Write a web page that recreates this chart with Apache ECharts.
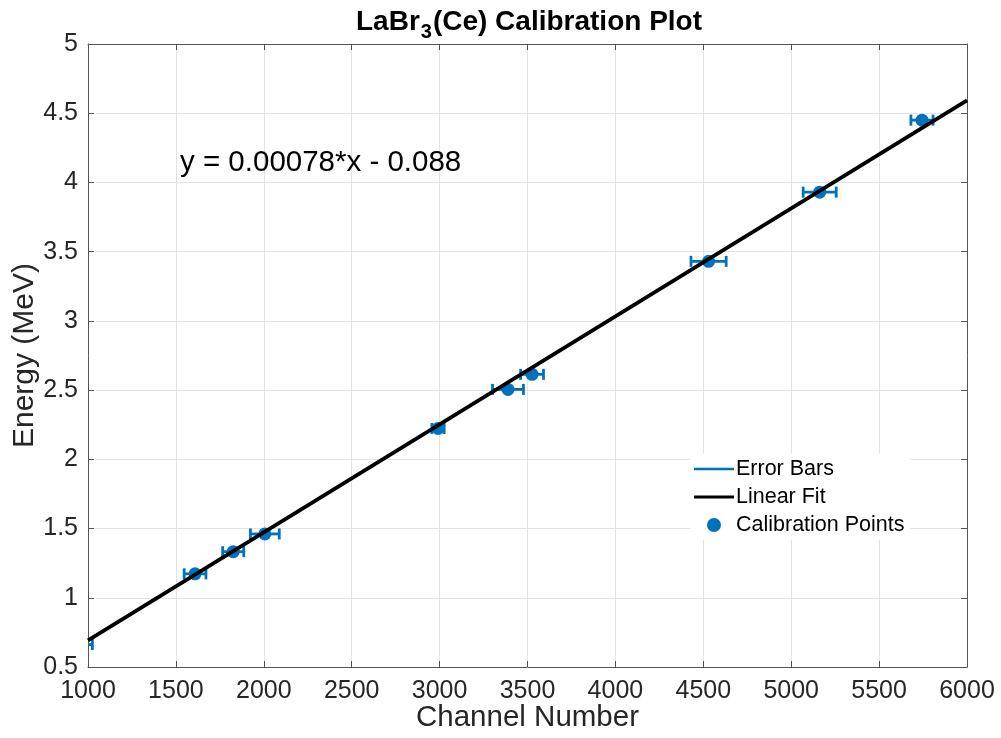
<!DOCTYPE html>
<html>
<head>
<meta charset="utf-8">
<script src="https://cdn.jsdelivr.net/npm/echarts@6/dist/echarts.min.js"></script>
<style>
  html, body { margin: 0; padding: 0; background: #fff; }
  #chart { width: 1001px; height: 738px; }
</style>
</head>
<body>
<div id="chart"></div>
<script>
// Calibration peaks: channel number, energy (MeV) and channel uncertainty
const channels   = [965, 1609, 1826, 2006, 2991, 3389, 3526, 4530, 5162, 5744];
const energies   = [0.662, 1.173, 1.333, 1.461, 2.223, 2.505, 2.614, 3.43, 3.93, 4.45];
const channelErr = [60, 62, 60, 82, 35, 88, 65, 100, 94, 63];

// Linear fit parameters (shown in the annotation)
const fitSlope = 0.00078;
const fitIntercept = -0.088;
const fitRange = [1000, 6000];

const xTicks = { min: 1000, max: 6000, interval: 500 };
const yTicks = { min: 0.5, max: 5, interval: 0.5 };

const BLUE = '#0072BD';
const FONT = '"Liberation Sans", Arial, Helvetica, sans-serif';
const AXIS_COLOR = '#262626';

const points = channels.map((c, i) => [c, energies[i]]);
const errData = channels.map((c, i) => [c, energies[i], channelErr[i]]);
const fitData = fitRange.map(x => [x, fitSlope * x + fitIntercept]);

const chart = echarts.init(document.getElementById('chart'), null, { renderer: 'canvas' });

const baseX = {
  type: 'value', min: xTicks.min, max: xTicks.max, interval: xTicks.interval
};
const baseY = {
  type: 'value', min: yTicks.min, max: yTicks.max, interval: yTicks.interval
};
const boxLine = { show: true, onZero: false, lineStyle: { color: '#555', width: 1 } };
const boxTick = { show: true, inside: true, length: 6, lineStyle: { color: '#555' } };

chart.setOption({
  animation: false,
  backgroundColor: '#fff',
  textStyle: { fontFamily: FONT },
  title: {
    text: '{b|LaBr}{s|3}{b|(Ce) Calibration Plot}',
    left: 524, top: 3, textAlign: 'center',
    textStyle: {
      rich: {
        b: { fontFamily: FONT, fontWeight: 'bold', fontSize: 28, color: '#000', verticalAlign: 'top', lineHeight: 32 },
        s: { fontFamily: FONT, fontWeight: 'bold', fontSize: 20, color: '#000', padding: [16, 1, 0, 1], lineHeight: 32 }
      }
    }
  },
  grid: { left: 88, right: 34, top: 44, bottom: 71, containLabel: false, outerBoundsMode: 'none' },
  legend: {
    left: 690, top: 454,
    orient: 'vertical',
    itemWidth: 40, itemHeight: 14, itemGap: 6,
    backgroundColor: '#fff',
    padding: [4, 6, 4, 4],
    textStyle: { fontFamily: FONT, fontSize: 21.5, color: '#000', padding: [0, 0, 0, -3] },
    data: [
      { name: 'Error Bars', icon: 'path://M0,0 M0,14 M0,5.8 L40,5.8 L40,8.2 L0,8.2 Z', itemStyle: { color: BLUE } },
      { name: 'Linear Fit', icon: 'path://M0,0 M0,14 M0,5.4 L40,5.4 L40,8.6 L0,8.6 Z', itemStyle: { color: '#000' } },
      { name: 'Calibration Points', icon: 'circle', itemStyle: { color: BLUE } }
    ]
  },
  xAxis: [
    Object.assign({}, baseX, {
      position: 'bottom',
      name: 'Channel Number', nameLocation: 'middle', nameGap: 36, nameMoveOverlap: false,
      nameTextStyle: { fontFamily: FONT, fontSize: 29.5, color: AXIS_COLOR },
      axisLine: boxLine,
      axisTick: boxTick,
      axisLabel: { fontFamily: FONT, fontSize: 25, color: AXIS_COLOR, margin: 12, hideOverlap: false,
        formatter: v => String(v) },
      splitLine: { show: true, lineStyle: { color: '#e3e3e3', width: 1 } }
    }),
    Object.assign({}, baseX, {
      position: 'top',
      axisLine: boxLine,
      axisTick: boxTick,
      axisLabel: { show: false },
      splitLine: { show: false }
    })
  ],
  yAxis: [
    Object.assign({}, baseY, {
      position: 'left',
      name: 'Energy (MeV)', nameLocation: 'middle', nameGap: 48, nameRotate: 90, nameMoveOverlap: false,
      nameTextStyle: { fontFamily: FONT, fontSize: 30, color: AXIS_COLOR },
      axisLine: boxLine,
      axisTick: boxTick,
      axisLabel: { fontFamily: FONT, fontSize: 25, color: AXIS_COLOR, margin: 10, hideOverlap: false,
        formatter: v => String(v) },
      splitLine: { show: true, lineStyle: { color: '#e3e3e3', width: 1 } }
    }),
    Object.assign({}, baseY, {
      position: 'right',
      axisLine: boxLine,
      axisTick: boxTick,
      axisLabel: { show: false },
      splitLine: { show: false }
    })
  ],
  series: [
    {
      name: 'Error Bars',
      type: 'custom',
      clip: true,
      z: 2,
      data: errData,
      renderItem: function (params, api) {
        const c = api.value(0), e = api.value(1), d = api.value(2);
        const lo = api.coord([c - d, e]);
        const hi = api.coord([c + d, e]);
        const cap = 5.5;
        const style = { stroke: BLUE, lineWidth: 2.8, fill: null };
        return {
          type: 'group',
          children: [
            { type: 'line', shape: { x1: lo[0], y1: lo[1], x2: hi[0], y2: hi[1] }, style: style },
            { type: 'line', shape: { x1: lo[0], y1: lo[1] - cap, x2: lo[0], y2: lo[1] + cap }, style: style },
            { type: 'line', shape: { x1: hi[0], y1: hi[1] - cap, x2: hi[0], y2: hi[1] + cap }, style: style }
          ]
        };
      }
    },
    {
      name: 'Calibration Points',
      type: 'scatter',
      z: 3,
      symbol: 'circle',
      symbolSize: 13,
      clip: true,
      itemStyle: { color: BLUE, opacity: 1 },
      data: points
    },
    {
      name: 'Linear Fit',
      type: 'line',
      z: 4,
      showSymbol: false,
      symbol: 'none',
      lineStyle: { color: '#000', width: 3.8 },
      itemStyle: { color: '#000' },
      data: fitData
    }
  ],
  graphic: [
    {
      type: 'text',
      z: 100,
      left: 180, top: 148,
      style: {
        text: 'y = 0.00078*x - 0.088',
        fontFamily: FONT, fontSize: 29.5, fill: '#000'
      }
    }
  ]
});
</script>
</body>
</html>
